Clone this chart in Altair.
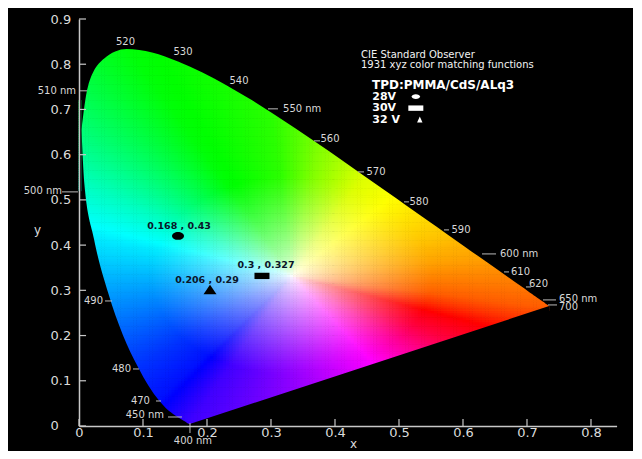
import numpy as np
import pandas as pd
import altair as alt

# ---------------- data ----------------
# CIE 1931 2-degree spectral locus (wavelength nm, x, y)
locus_nm = [380, 385, 390, 395, 400, 405, 410, 415, 420, 425, 430, 435, 440, 445, 450, 455, 460, 465, 470, 475,
            480, 485, 490, 495, 500, 505, 510, 515, 520, 525, 530, 535, 540, 545, 550, 555, 560, 565, 570, 575,
            580, 585, 590, 595, 600, 605, 610, 615, 620, 625, 630, 635, 640, 645, 650, 655, 660, 665, 670, 675,
            680, 690, 700]
locus_x = [0.1741, 0.1740, 0.1738, 0.1736, 0.1733, 0.1730, 0.1726, 0.1721, 0.1714, 0.1703, 0.1689, 0.1669, 0.1644,
           0.1611, 0.1566, 0.1510, 0.1440, 0.1355, 0.1241, 0.1096, 0.0913, 0.0687, 0.0454, 0.0235, 0.0082, 0.0039,
           0.0139, 0.0389, 0.0743, 0.1142, 0.1547, 0.1929, 0.2296, 0.2658, 0.3016, 0.3373, 0.3731, 0.4087, 0.4441,
           0.4788, 0.5125, 0.5448, 0.5752, 0.6029, 0.6270, 0.6482, 0.6658, 0.6801, 0.6915, 0.7006, 0.7079, 0.7140,
           0.7190, 0.7230, 0.7260, 0.7283, 0.7300, 0.7311, 0.7320, 0.7327, 0.7334, 0.7344, 0.7347]
locus_y = [0.0050, 0.0050, 0.0049, 0.0049, 0.0048, 0.0048, 0.0048, 0.0048, 0.0051, 0.0058, 0.0069, 0.0086, 0.0109,
           0.0138, 0.0177, 0.0227, 0.0297, 0.0399, 0.0578, 0.0868, 0.1327, 0.2007, 0.2950, 0.4127, 0.5384, 0.6548,
           0.7502, 0.8120, 0.8338, 0.8262, 0.8059, 0.7816, 0.7543, 0.7243, 0.6923, 0.6589, 0.6245, 0.5896, 0.5547,
           0.5202, 0.4866, 0.4544, 0.4242, 0.3965, 0.3725, 0.3514, 0.3340, 0.3197, 0.3083, 0.2993, 0.2920, 0.2859,
           0.2809, 0.2770, 0.2740, 0.2717, 0.2700, 0.2689, 0.2680, 0.2673, 0.2666, 0.2656, 0.2653]

# colour wheel of the gamut fill (angle around white -> hue)
white_xy = [0.333, 0.333]
hue_angle = [-10, -4, 7.6, 20.6, 40.5, 63, 82, 95, 117, 148, 165, 187.5, 219.6, 232.8, 244, 262, 302, 319, 330,
             339, 345, 350]
hue_value = [22, 28, 38, 46, 56, 68, 90, 110, 122, 165, 185, 203, 228, 236, 255, 268, 298, 325, 345,
             358, 372, 382]

# measured points
pt_x = [0.1547, 0.2859, 0.2047]
pt_y = [0.4204, 0.3319, 0.3020]
pt_text = ["0.168 , 0.43", "0.3 , 0.327", "0.206 , 0.29"]
pt_text_x = [0.1563, 0.2922, 0.2000]
pt_text_y = [0.4425, 0.3562, 0.3230]

# wavelength annotations
wl_text = ["520", "530", "540", "550 nm", "560", "570", "580", "590", "600 nm", "610", "620", "650 nm", "700",
           "510 nm", "500 nm", "490", "480", "470", "450 nm", "400 nm"]
wl_text_x = [0.0727, 0.1625, 0.2500, 0.3188, 0.3922, 0.4641, 0.5313, 0.5969, 0.6578, 0.6898, 0.7180, 0.7500, 0.7500,
             -0.0047, -0.0266, 0.0375, 0.0813, 0.1109, 0.1328, 0.1780]
wl_text_y = [0.8496, 0.8274, 0.7633, 0.7013, 0.6350, 0.5619, 0.4956, 0.4336, 0.3805, 0.3407, 0.3142, 0.2810, 0.2633,
             0.7412, 0.5199, 0.2765, 0.1261, 0.0553, 0.0243, -0.0332]
wl_text_align = ["center", "center", "center", "left", "center", "center", "center", "center", "left", "center",
                 "center", "left", "left", "right", "right", "right", "right", "right", "right", "center"]
wl_tick_x1 = [0.2953, 0.3672, 0.4359, 0.5078, 0.5703, 0.6297, 0.6641, 0.6984, 0.7250, 0.7328,
              0.0016, -0.0266, 0.0406, 0.0844, 0.1203, 0.1391, 0.1734]
wl_tick_x2 = [0.3109, 0.3766, 0.4453, 0.5156, 0.5781, 0.6516, 0.6719, 0.7063, 0.7453, 0.7469,
              0.0125, -0.0016, 0.0516, 0.0938, 0.1281, 0.1609, 0.1734]
wl_tick_y1 = [0.7013, 0.6305, 0.5619, 0.4956, 0.4336, 0.3805, 0.3407, 0.3075, 0.2788, 0.2677,
              0.7412, 0.5177, 0.2765, 0.1261, 0.0553, 0.0199, 0.0066]
wl_tick_y2 = [0.7013, 0.6305, 0.5619, 0.4956, 0.4336, 0.3805, 0.3407, 0.3075, 0.2788, 0.2677,
              0.7412, 0.5177, 0.2765, 0.1261, 0.0553, 0.0199, -0.0155]

legend_lines = ["CIE Standard Observer", "1931 xyz color matching functions"]
legend_title = "TPD:PMMA/CdS/ALq3"
legend_labels = ["28V", "30V", "32 V"]

x_ticks = [0, 0.1, 0.2, 0.3, 0.4, 0.5, 0.6, 0.7, 0.8]
y_ticks = [0, 0.1, 0.2, 0.3, 0.4, 0.5, 0.6, 0.7, 0.8, 0.9]

# ---------------- gamut fill cells ----------------
A = np.stack([np.array(locus_x), np.array(locus_y)], 1)
B = np.roll(A, -1, axis=0)
ax_, ay_, bx_, by_ = A[:, 0][None, :], A[:, 1][None, :], B[:, 0][None, :], B[:, 1][None, :]


def inside(qx, qy):
    qx = qx[:, None]
    qy = qy[:, None]
    cond = (ay_ > qy) != (by_ > qy)
    with np.errstate(divide="ignore", invalid="ignore"):
        xint = (bx_ - ax_) * (qy - ay_) / (by_ - ay_) + ax_
    return ((cond & (qx < xint)).sum(1) % 2) == 1


step = 0.005
gx, gy = np.meshgrid(np.arange(step / 2, 0.745, step), np.arange(step / 2, 0.845, step))
gx = gx.ravel()
gy = gy.ravel()
keep = inside(gx, gy)
e = 0.008
for ox, oy in [(e, 0), (-e, 0), (0, e), (0, -e), (0.7 * e, 0.7 * e), (-0.7 * e, 0.7 * e),
               (0.7 * e, -0.7 * e), (-0.7 * e, -0.7 * e)]:
    keep |= inside(gx + ox, gy + oy)
cx = gx[keep]
cy = gy[keep]

dx = cx - white_xy[0]
dy = cy - white_xy[1]
dist = np.hypot(dx, dy) + 1e-9
ux = (dx / dist)[:, None]
uy = (dy / dist)[:, None]
ex = bx_ - ax_
ey = by_ - ay_
wx = ax_ - white_xy[0]
wy = ay_ - white_xy[1]
with np.errstate(divide="ignore", invalid="ignore"):
    den = ux * ey - uy * ex
    s_ = (wx * ey - wy * ex) / den
    r_ = (wx * uy - wy * ux) / den
valid = (r_ >= 0) & (r_ <= 1) & (s_ > 0)
d_edge = np.where(valid, s_, np.inf).min(1)

theta = np.degrees(np.arctan2(dy, dx))
theta = ((theta + 10) % 360) - 10
hue = np.interp(theta, hue_angle, hue_value) % 360
s0 = np.clip(dist / 0.22, 0, 1) ** 0.7
f = np.clip(dist / d_edge, 0, 1)
sat = s0 + (1 - s0) * f ** 5

h6 = hue / 60.0
i = np.floor(h6).astype(int) % 6
fr = h6 - np.floor(h6)
v = np.ones_like(h6)
p = 1 - sat
q = 1 - sat * fr
t = 1 - sat * (1 - fr)
r = np.choose(i, [v, q, p, p, t, v])
g = np.choose(i, [t, v, v, q, p, p])
b = np.choose(i, [p, p, t, v, v, q])
cols = ["#%02x%02x%02x" % (int(round(a * 255)), int(round(bb * 255)), int(round(c * 255))) for a, bb, c in zip(r, g, b)]
cells = pd.DataFrame({"x": np.round(cx, 4), "y": np.round(cy, 4), "c": cols})

# ---------------- masks that trim the fill to the locus ----------------
nm = np.array(locus_nm)
lx = np.array(locus_x)
ly = np.array(locus_y)
up = nm >= 505
lo = nm <= 505
upper = pd.DataFrame({"x": list(lx[up]) + [0.7349, 0.84], "y": list(ly[up]) + [0, 0]})
upper["y2"] = 0.9
lower = pd.DataFrame({"x": list(lx[lo][::-1]), "y2": list(ly[lo][::-1])})
lower["y"] = 0.0
purple = pd.DataFrame({"x": [locus_x[0], locus_x[-1], 0.7349, 0.84], "y2": [locus_y[0], locus_y[-1], 0, 0]})
purple["y"] = 0.0
left_strip = pd.DataFrame({"x0": [0.0], "x1": [min(locus_x)], "y0": [0.0], "y1": [0.9]})

# ---------------- chart ----------------
FONT = "DejaVu Sans"
AXC = "#c8c8c8"
LBL = "#dcdcdc"
xs = alt.Scale(domain=[0, 0.84], nice=False, zero=False)
ys = alt.Scale(domain=[0, 0.9], nice=False, zero=False)

xaxis = alt.Axis(values=x_ticks, ticks=False, tickSize=0, grid=False, domainColor=AXC, domainWidth=1.5,
                 labelColor=LBL, labelFont=FONT, labelFontSize=13, labelPadding=1, labelFlush=False,
                 labelOverlap=False, labelExpr="datum.value == 0 ? '0' : format(datum.value, '.1f')",
                 title="x", titleColor=LBL, titleFont=FONT, titleFontSize=12, titleFontWeight="normal",
                 titleX=274, titleY=18, titleBaseline="middle", zindex=1)
yaxis = alt.Axis(values=y_ticks, ticks=False, tickSize=0, grid=False, domainColor=AXC, domainWidth=1.5,
                 labelColor=LBL, labelFont=FONT, labelFontSize=13, labelPadding=29, labelAlign="left",
                 labelFlush=False, labelOverlap=False,
                 labelExpr="datum.value == 0 ? '0' : format(datum.value, '.1f')",
                 title="y", titleColor=LBL, titleFont=FONT, titleFontSize=12, titleFontWeight="normal",
                 titleAngle=0, titleX=-42, titleY=211, titleAlign="center", titleBaseline="middle", zindex=1)


def X(fld):
    return alt.X(fld, scale=xs, axis=xaxis)


def Y(fld):
    return alt.Y(fld, scale=ys, axis=yaxis)


fill = alt.Chart(cells).mark_rect(width=3.8, height=2.9).encode(
    x=X("x:Q"), y=Y("y:Q"), color=alt.Color("c:N", scale=None))

mask_up = alt.Chart(upper).mark_area(color="black", interpolate="monotone").encode(
    x=X("x:Q"), y=Y("y:Q"), y2="y2:Q")
mask_lo = alt.Chart(lower).mark_area(color="black", interpolate="monotone").encode(
    x=X("x:Q"), y=Y("y:Q"), y2="y2:Q")
mask_pu = alt.Chart(purple).mark_area(color="black").encode(
    x=X("x:Q"), y=Y("y:Q"), y2="y2:Q")
mask_left = alt.Chart(left_strip).mark_rect(color="black").encode(
    x=X("x0:Q"), x2="x1:Q", y=Y("y0:Q"), y2="y1:Q")

ytick_df = pd.DataFrame({"v": y_ticks})
ytick_df["a"] = 0.0
ytick_df["b"] = 0.011
xtick_df = pd.DataFrame({"v": x_ticks})
xtick_df["a"] = 0.0
xtick_df["b"] = 0.0155
ytick_rules = alt.Chart(ytick_df).mark_rule(color=AXC, strokeWidth=1.2).encode(
    y=Y("v:Q"), x=X("a:Q"), x2="b:Q")
xtick_rules = alt.Chart(xtick_df).mark_rule(color=AXC, strokeWidth=1.2).encode(
    x=X("v:Q"), y=Y("a:Q"), y2="b:Q")

wl_ticks = alt.Chart(pd.DataFrame({"x1": wl_tick_x1, "x2": wl_tick_x2, "y1": wl_tick_y1, "y2": wl_tick_y2})
                     ).mark_rule(color="#bbbbbb", strokeWidth=1).encode(
    x=X("x1:Q"), x2="x2:Q", y=Y("y1:Q"), y2="y2:Q")

wl_df = pd.DataFrame({"t": wl_text, "x": wl_text_x, "y": wl_text_y, "a": wl_text_align})
wl_layers = []
for al in ["left", "center", "right"]:
    wl_layers.append(
        alt.Chart(wl_df[wl_df["a"] == al]).mark_text(align=al, baseline="middle", font=FONT, fontSize=10,
                                                      color="#d8d8d8").encode(
            x=X("x:Q"), y=Y("y:Q"), text="t:N"))

ELLIPSE = "M -1 0 A 1 0.66 0 1 1 1 0 A 1 0.66 0 1 1 -1 0 Z"
RECT = "M -1 -0.42 L 1 -0.42 L 1 0.42 L -1 0.42 Z"
TRI = "M 0 -0.73 L 1 0.73 L -1 0.73 Z"

pts = pd.DataFrame({"x": pt_x, "y": pt_y})
m1 = alt.Chart(pts.iloc[[0]]).mark_point(shape=ELLIPSE, size=144, filled=True, color="black", opacity=1).encode(
    x=X("x:Q"), y=Y("y:Q"))
m2 = alt.Chart(pts.iloc[[1]]).mark_point(shape=RECT, size=225, filled=True, color="black", opacity=1).encode(
    x=X("x:Q"), y=Y("y:Q"))
m3 = alt.Chart(pts.iloc[[2]]).mark_point(shape=TRI, size=169, filled=True, color="black", opacity=1).encode(
    x=X("x:Q"), y=Y("y:Q"))
pt_labels = alt.Chart(pd.DataFrame({"t": pt_text, "x": pt_text_x, "y": pt_text_y})).mark_text(
    font=FONT, fontSize=9.5, fontWeight="bold", color="#0a1428", baseline="middle").encode(
    x=X("x:Q"), y=Y("y:Q"), text="t:N")

# legend block
leg_df = pd.DataFrame({"t": legend_lines, "x": [0.4406, 0.4406], "y": [0.8200, 0.7985]})
leg_text = alt.Chart(leg_df).mark_text(font=FONT, fontSize=10, color="#f2f2f2", align="left",
                                       baseline="middle").encode(x=X("x:Q"), y=Y("y:Q"), text="t:N")
leg_title = alt.Chart(pd.DataFrame({"t": [legend_title], "x": [0.4578], "y": [0.7530]})).mark_text(
    font=FONT, fontSize=12, fontWeight="bold", color="white", align="left", baseline="middle").encode(
    x=X("x:Q"), y=Y("y:Q"), text="t:N")
leg_rows = alt.Chart(pd.DataFrame({"t": legend_labels, "x": [0.4583] * 3, "y": [0.7275, 0.7030, 0.6770]})).mark_text(
    font=FONT, fontSize=11, fontWeight="bold", color="white", align="left", baseline="middle").encode(
    x=X("x:Q"), y=Y("y:Q"), text="t:N")
lm = pd.DataFrame({"x": [0.5263, 0.5263, 0.5325], "y": [0.7285, 0.7029, 0.6777]})
lm1 = alt.Chart(lm.iloc[[0]]).mark_point(shape="M -1 0 A 1 0.57 0 1 1 1 0 A 1 0.57 0 1 1 -1 0 Z", size=70,
                                         filled=True, color="white", opacity=1).encode(x=X("x:Q"), y=Y("y:Q"))
lm2 = alt.Chart(lm.iloc[[1]]).mark_point(shape="M -1 -0.36 L 1 -0.36 L 1 0.36 L -1 0.36 Z", size=225,
                                         filled=True, color="white", opacity=1).encode(x=X("x:Q"), y=Y("y:Q"))
lm3 = alt.Chart(lm.iloc[[2]]).mark_point(shape="M 0 -1 L 0.9 1 L -0.9 1 Z", size=36,
                                         filled=True, color="white", opacity=1).encode(x=X("x:Q"), y=Y("y:Q"))

chart = alt.layer(
    fill, mask_up, mask_lo, mask_pu, mask_left, ytick_rules, xtick_rules, wl_ticks, *wl_layers,
    m1, m2, m3, pt_labels, leg_text, leg_title, leg_rows, lm1, lm2, lm3
).properties(
    width=537.6, height=407,
    padding={"left": 71, "top": 11, "right": 16, "bottom": 25},
    autosize=alt.AutoSizeParams(type="none"),
    background="black",
).configure_view(strokeWidth=0)

chart.save("out.html", embed_options={"renderer": "svg", "actions": False})
